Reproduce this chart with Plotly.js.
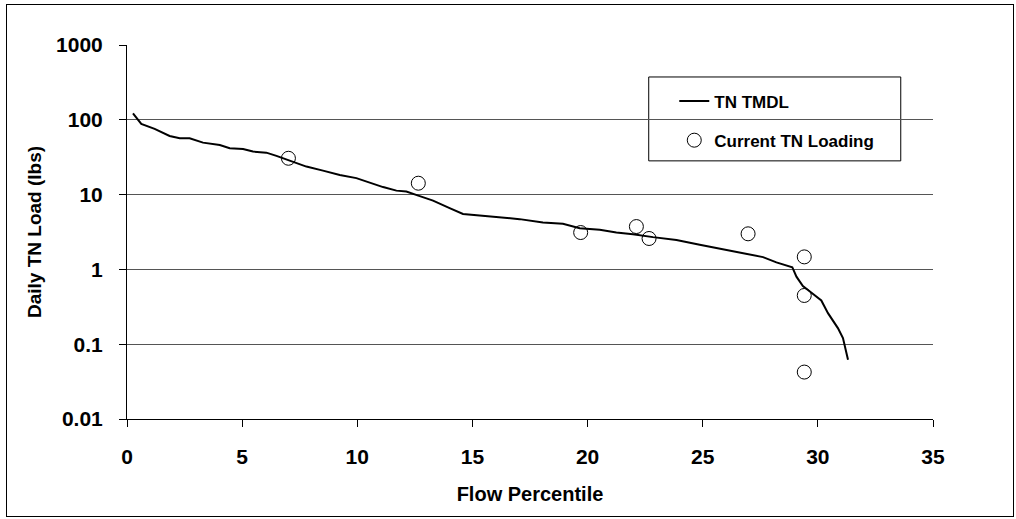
<!DOCTYPE html>
<html>
<head>
<meta charset="utf-8">
<script src="https://cdn.plot.ly/plotly-3.0.1.min.js"></script>
<style>
  html, body { margin: 0; padding: 0; background: #fff; }
  #wrap { position: relative; width: 1016px; height: 519px; }
  #chart { width: 1016px; height: 519px; }
  #frame { position: absolute; left: 6px; top: 4px; width: 1008px; height: 513px; border: 1px solid #000; pointer-events: none; box-sizing: border-box; }
</style>
</head>
<body>
<div id="wrap">
  <div id="chart"></div>
  <div id="frame"></div>
</div>
<script>
// TN TMDL curve (flow percentile vs daily load, lbs)
const tmdlX = [0.26,0.62,1.20,1.85,2.29,2.72,3.30,4.03,4.46,5.04,5.47,6.05,6.49,7.07,7.79,8.51,9.24,9.96,10.54,11.12,11.70,12.13,12.65,13.29,14.01,14.59,15.31,16.04,17.05,18.06,18.93,19.66,20.53,21.25,21.97,22.84,23.86,24.87,26.03,26.60,27.62,28.20,28.89,29.07,29.35,29.64,30.15,30.44,30.87,31.09,31.31];
const tmdlY = [122,88,75.5,60.8,56.6,56.6,49.5,46.1,41.7,40.8,37.6,36.4,32.9,28.5,23.7,20.9,18.3,16.6,14.5,12.6,11.3,11.0,9.7,8.3,6.6,5.5,5.25,5.05,4.70,4.24,4.07,3.56,3.38,3.11,2.96,2.70,2.48,2.13,1.83,1.68,1.46,1.24,1.07,0.80,0.60,0.51,0.384,0.26,0.164,0.121,0.062];

// Current TN loading observations
const loadX = [7.01,12.65,19.70,22.12,22.67,26.97,29.41,29.41,29.41];
const loadY = [30.6,14.2,3.11,3.74,2.59,2.99,1.47,0.448,0.0424];

const seriesNames = ["TN TMDL", "Current TN Loading"];
const xTitle = "Flow Percentile";
const yTitle = "Daily TN Load (lbs)";

const FONT = "Liberation Sans, Arial, sans-serif";

const traces = [
  {
    x: tmdlX, y: tmdlY, type: "scatter", mode: "lines", name: seriesNames[0],
    line: { color: "#000", width: 2 }, legendgroup: "a"
  },
  {
    x: loadX, y: loadY, type: "scatter", mode: "markers", name: seriesNames[1],
    marker: { symbol: "circle-open", size: 14, color: "#000", line: { width: 1, color: "#000" } },
    legendgroup: "b"
  }
];

const layout = {
  width: 1016, height: 519,
  margin: { l: 127, r: 83, t: 45, b: 100 },
  paper_bgcolor: "#fff", plot_bgcolor: "#fff",
  showlegend: true,
  legend: {
    x: 0.679, y: 0.897, xanchor: "left", yanchor: "top",
    bgcolor: "rgba(0,0,0,0)", borderwidth: 0,
    font: { family: FONT, size: 17, color: "#000", weight: "bold" },
    tracegroupgap: 14
  },
  shapes: [
    { type: "rect", xref: "paper", yref: "paper", x0: 0.6473, x1: 0.9600, y0: 0.6902, y1: 0.9145,
      line: { color: "#000", width: 1 }, fillcolor: "#fff", layer: "below" }
  ],
  xaxis: {
    range: [0, 35], dtick: 5, tick0: 0,
    showgrid: false, zeroline: false,
    showline: true, linecolor: "#000", linewidth: 1,
    ticks: "outside", ticklen: 7, tickcolor: "#000", ticklabelstandoff: 12,
    tickfont: { family: FONT, size: 21, color: "#000", weight: "bold" },
    title: { text: xTitle, font: { family: FONT, size: 20, color: "#000", weight: "bold" }, standoff: 19 }
  },
  yaxis: {
    type: "log", range: [-2, 3], dtick: 1, exponentformat: "none",
    showgrid: true, gridcolor: "#555", gridwidth: 1, zeroline: false,
    showline: true, linecolor: "#000", linewidth: 1,
    ticks: "outside", ticklen: 7, tickcolor: "#000", ticklabelstandoff: 12,
    tickfont: { family: FONT, size: 21, color: "#000", weight: "bold" },
    title: { text: yTitle, font: { family: FONT, size: 19, color: "#000", weight: "bold" }, standoff: 9 }
  }
};

Plotly.newPlot("chart", traces, layout, { displayModeBar: false, staticPlot: true });
</script>
</body>
</html>
